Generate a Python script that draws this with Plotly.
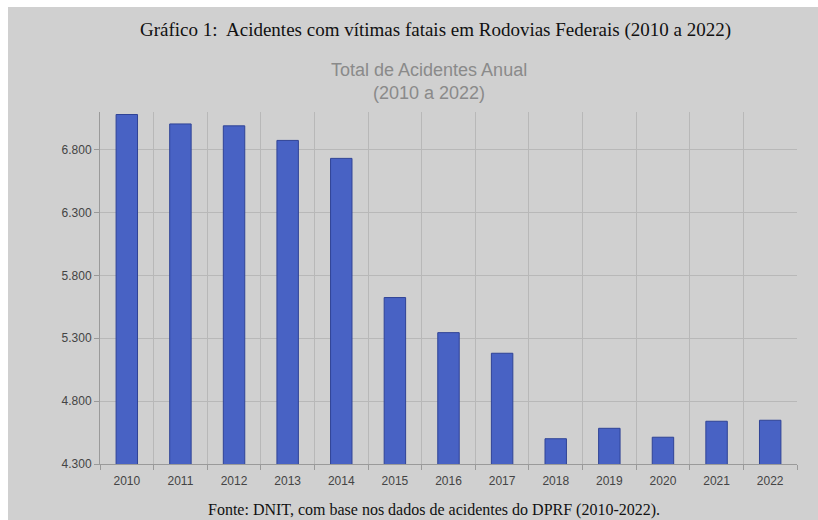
import plotly.graph_objects as go

years = ["2010", "2011", "2012", "2013", "2014", "2015", "2016",
         "2017", "2018", "2019", "2020", "2021", "2022"]
acidentes = [7080, 7005, 6990, 6874, 6731, 5624, 5345,
             5181, 4501, 4584, 4513, 4640, 4648]
y_ticks = [4300, 4800, 5300, 5800, 6300, 6800]

W, H = 818, 520
L, R, T, B = 100, 21, 112, 56
PW, PH = W - L - R, H - T - B


def px(x):
    return (x - L) / PW


def py(y):
    return (H - B - y) / PH


GRAY = "#d0d0d0"

fig = go.Figure()
fig.add_trace(go.Bar(
    x=years, y=acidentes, width=0.4,
    marker=dict(color="#4862c4", line=dict(color="#2f4396", width=1)),
    hoverinfo="x+y",
))

tickfont = dict(family="Liberation Sans, Arial", size=12, color="#444444")

fig.update_layout(
    width=W, height=H,
    margin=dict(l=L, r=R, t=T, b=B),
    paper_bgcolor="white",
    plot_bgcolor="rgba(0,0,0,0)",
    separators=",.",
    showlegend=False,
    xaxis=dict(
        type="category", tickson="boundaries",
        showgrid=True, gridcolor="#b8b8b8", gridwidth=1,
        showline=True, linecolor="#9a9a9a", linewidth=1,
        ticks="outside", ticklen=5, tickcolor="#9a9a9a",
        ticklabelstandoff=6,
        tickfont=tickfont,
        range=[-0.5, 12.5],
    ),
    yaxis=dict(
        range=[4300, 7100],
        tickvals=y_ticks, tickformat=",d",
        showgrid=True, gridcolor="#b8b8b8", gridwidth=1,
        showline=True, linecolor="#9a9a9a", linewidth=1,
        ticks="outside", ticklen=5, tickcolor="#9a9a9a",
        tickfont=tickfont,
        zeroline=False,
    ),
    shapes=[dict(
        type="rect", xref="paper", yref="paper", layer="below",
        x0=px(8), x1=px(818), y0=py(520), y1=py(7),
        fillcolor=GRAY, line=dict(width=0),
    )],
    annotations=[
        dict(text="Gráfico 1:  Acidentes com vítimas fatais em Rodovias Federais (2010 a 2022)",
             xref="paper", yref="paper", x=px(435), y=py(30),
             xanchor="center", yanchor="middle", showarrow=False,
             font=dict(family="Liberation Serif, Times New Roman", size=19, color="#111")),
        dict(text="Total de Acidentes Anual",
             xref="paper", yref="paper", x=px(429), y=py(70),
             xanchor="center", yanchor="middle", showarrow=False,
             font=dict(family="Liberation Sans, Arial", size=18, color="#8a8a8a")),
        dict(text="(2010 a 2022)",
             xref="paper", yref="paper", x=px(429), y=py(93),
             xanchor="center", yanchor="middle", showarrow=False,
             font=dict(family="Liberation Sans, Arial", size=18, color="#8a8a8a")),
        dict(text="Fonte: DNIT, com base nos dados de acidentes do DPRF (2010-2022).",
             xref="paper", yref="paper", x=px(434), y=py(510),
             xanchor="center", yanchor="middle", showarrow=False,
             font=dict(family="Liberation Serif, Times New Roman", size=16, color="#111")),
    ],
)

fig.write_html("out.html",
               config={"displayModeBar": False},
               post_script="document.body.style.margin='0';document.body.style.overflow='hidden';")
